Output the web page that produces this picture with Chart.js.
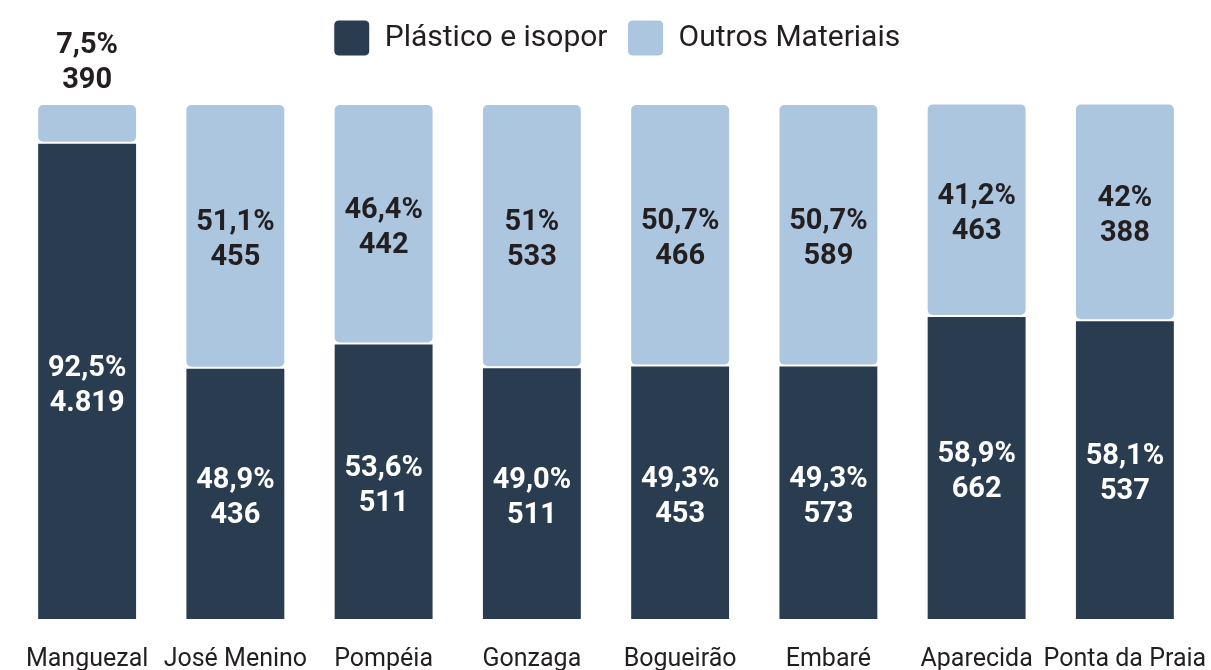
<!DOCTYPE html>
<html>
<head>
<meta charset="utf-8">
<script src="https://cdn.jsdelivr.net/npm/chart.js@4"></script>
<style>
  html, body { margin: 0; padding: 0; background: #fff; overflow: hidden; }
  #wrap { width: 1211px; height: 670px; overflow: hidden; }
  #box { width: 1211px; height: 690px; }
</style>
</head>
<body>
<div id="wrap"><div id="box"><canvas id="barChartCanvas"></canvas></div></div>
<script>
const bairros = ['Manguezal', 'José Menino', 'Pompéia', 'Gonzaga', 'Bogueirão', 'Embaré', 'Aparecida', 'Ponta da Praia'];
const plasticoPct = [92.5, 48.9, 53.6, 49.0, 49.3, 49.3, 58.9, 58.1];
const outrosPct = [7.5, 51.1, 46.4, 51.0, 50.7, 50.7, 41.2, 42.0];
const plasticoQtd = [4819, 436, 511, 511, 453, 573, 662, 537];
const outrosQtd = [390, 455, 442, 533, 466, 589, 463, 388];
const plasticoTxt = ['92,5%', '48,9%', '53,6%', '49,0%', '49,3%', '49,3%', '58,9%', '58,1%'];
const outrosTxt = ['7,5%', '51,1%', '46,4%', '51%', '50,7%', '50,7%', '41,2%', '42%'];

function milhar(n) {
    return String(n).replace(/\B(?=(\d{3})+(?!\d))/g, '.');
}

// espaço extra abaixo da legenda, e legenda um pouco à direita
const legendaAlta = {
    id: 'legendaAlta',
    afterInit(chart) {
        const lg = chart.legend;
        if (!lg) return;
        const fitOrig = lg.fit;
        lg.fit = function () {
            fitOrig.call(this);
            this.height += 38;
        };
    },
    afterLayout(chart) {
        if (chart.legend) chart.legend.left += 22;
    }
};

// rótulos dentro (ou acima) de cada segmento
const rotulos = {
    id: 'rotulos',
    afterDatasetsDraw(chart) {
        const ctx = chart.ctx;
        ctx.save();
        ctx.font = 'bold 29px Roboto';
        ctx.textAlign = 'center';
        ctx.textBaseline = 'middle';
        chart.data.datasets.forEach(function (ds, di) {
            const meta = chart.getDatasetMeta(di);
            meta.data.forEach(function (bar, i) {
                const l1 = ds.pctLabels[i];
                const l2 = milhar(ds.qtd[i]);
                const top = Math.min(bar.y, bar.base);
                const h = Math.abs(bar.base - bar.y);
                if (h < 70) {
                    ctx.fillStyle = '#231f20';
                    ctx.fillText(l1, bar.x, top - 58);
                    ctx.fillText(l2, bar.x, top - 23);
                } else {
                    const c = top + h / 2;
                    ctx.fillStyle = ds.labelColor;
                    ctx.fillText(l1, bar.x, c - 13);
                    ctx.fillText(l2, bar.x, c + 22);
                }
            });
        });
        ctx.restore();
    }
};

const barCtx = document.getElementById('barChartCanvas').getContext('2d');
const barChart = new Chart(barCtx, {
    type: 'bar',
    data: {
        labels: bairros,
        datasets: [{
            label: 'Plástico e isopor',
            data: plasticoPct,
            qtd: plasticoQtd,
            pctLabels: plasticoTxt,
            labelColor: '#ffffff',
            backgroundColor: '#2a3c4f',
            borderColor: '#ffffff',
            borderWidth: 1,
            borderRadius: 6,
            borderSkipped: false
        }, {
            label: 'Outros Materiais',
            data: outrosPct,
            qtd: outrosQtd,
            pctLabels: outrosTxt,
            labelColor: '#231f20',
            backgroundColor: '#adc6e0',
            borderColor: '#ffffff',
            borderWidth: 1,
            borderRadius: 6,
            borderSkipped: false
        }]
    },
    options: {
        responsive: true,
        maintainAspectRatio: false,
        animation: false,
        layout: { padding: { left: 13, right: 12, top: 0, bottom: 15 } },
        datasets: { bar: { categoryPercentage: 1, barPercentage: 0.674 } },
        plugins: {
            legend: {
                position: 'top',
                labels: {
                    boxWidth: 36,
                    boxHeight: 36,
                    useBorderRadius: true,
                    borderRadius: 5,
                    padding: 20,
                    color: '#231f20',
                    font: { family: 'Roboto', size: 30 }
                }
            },
            tooltip: { enabled: false }
        },
        scales: {
            x: {
                stacked: true,
                grid: { display: false, drawTicks: true, tickLength: 25 },
                border: { display: false },
                ticks: {
                    padding: 0,
                    maxRotation: 0,
                    minRotation: 0,
                    autoSkip: false,
                    color: '#231f20',
                    font: { family: 'Roboto', size: 25 }
                }
            },
            y: {
                stacked: true,
                display: false,
                min: 0,
                max: 100
            }
        }
    },
    plugins: [legendaAlta, rotulos]
});
</script>
</body>
</html>
